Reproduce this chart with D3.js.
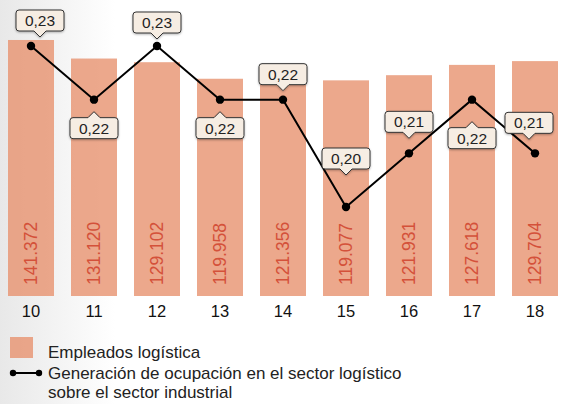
<!DOCTYPE html>
<html><head><meta charset="utf-8">
<script src="https://cdn.jsdelivr.net/npm/d3@7"></script>
<style>
html,body{margin:0;padding:0;background:#fff;}
svg{display:block;font-family:"Liberation Sans",Arial,Helvetica,sans-serif;}
</style></head>
<body>
<svg id="c" width="561" height="404"></svg>
<script>
// ---- data ----
const years = ["10","11","12","13","14","15","16","17","18"];
const empleados = [141372,131120,129102,119958,121356,119077,121931,127618,129704];
const empleadosLabels = ["141.372","131.120","129.102","119.958","121.356","119.077","121.931","127.618","129.704"];
const ratio = [0.23,0.22,0.23,0.22,0.22,0.20,0.21,0.22,0.21];
const ratioLabels = ["0,23","0,22","0,23","0,22","0,22","0,20","0,21","0,22","0,21"];
const legendLabels = ["Empleados logística","Generación de ocupación en el sector logístico","sobre el sector industrial"];

// ---- layout (not data) ----
const labelSide = ["up","down","up","down","up","up","up","down","up"];
const labelGap  = [9,12,7,12,9,32,15,22,14];

const svg = d3.select("#c");
const defs = svg.append("defs");
const g = defs.append("linearGradient").attr("id","bg")
  .attr("gradientUnits","userSpaceOnUse").attr("x1",0).attr("x2",115).attr("y1",0).attr("y2",0);
g.append("stop").attr("offset","0").attr("stop-color","#e8e8e8");
g.append("stop").attr("offset","1").attr("stop-color","#ffffff");
const f = defs.append("filter").attr("id","sh").attr("x","-20%").attr("y","-20%").attr("width","140%").attr("height","160%");
f.append("feDropShadow").attr("dx",0).attr("dy",1).attr("stdDeviation",0.8).attr("flood-color","#000").attr("flood-opacity",0.3);

svg.append("rect").attr("width",561).attr("height",404).attr("fill","url(#bg)");

const x = d3.scaleBand().domain(years).range([8,558]).paddingInner(0.27).paddingOuter(0);
const yBar = d3.scaleLinear().domain([0,150000]).range([296,24.35]);
const yLine = d3.scaleLinear().domain([0.20,0.23]).range([207,46]);
const cx = d => x(d) + x.bandwidth()/2;

const barFill = "#e7926f";
svg.append("g").selectAll("rect").data(years).join("rect")
  .attr("x", d=>x(d)).attr("width", x.bandwidth())
  .attr("y", (d,i)=>yBar(empleados[i]))
  .attr("height", (d,i)=>yBar(0)-yBar(empleados[i]))
  .attr("fill", barFill).attr("fill-opacity",0.8);

svg.append("g").selectAll("text").data(years).join("text")
  .attr("transform", d=>`translate(${cx(d)},285) rotate(-90)`)
  .attr("dy","0.36em")
  .attr("font-size",17.5).attr("fill","#d4513a")
  .text((d,i)=>empleadosLabels[i]);

// x axis
const xAxis = d3.axisBottom(x).tickSize(0).tickPadding(0);
const ax = svg.append("g").attr("transform","translate(0,301)").call(xAxis);
ax.select(".domain").remove();
ax.selectAll("text").attr("font-size",16.5).attr("fill","#111").attr("font-family",'"Liberation Sans",Arial,sans-serif').attr("dy","0.95em");

// line
const line = d3.line().x((d,i)=>cx(years[i])).y(d=>yLine(d));
svg.append("path").datum(ratio).attr("d",line).attr("fill","none").attr("stroke","#000").attr("stroke-width",2);
svg.append("g").selectAll("circle").data(ratio).join("circle")
  .attr("cx",(d,i)=>cx(years[i])).attr("cy",d=>yLine(d)).attr("r",4.2).attr("fill","#000");

// callouts
const bw=48, bh=21, th=6, tw=6, r=3;
const lg = svg.append("g");
ratio.forEach((v,i)=>{
  const px = cx(years[i]), py = yLine(v);
  let bx = Math.max(16, Math.min(553-bw, px-bw/2));
  const mid = bx+bw/2;
  let p, t;
  if(labelSide[i]==="up"){
    const tip = py - labelGap[i];
    const b = tip - th; t = b - bh;
    p = `M${bx+r},${t} H${bx+bw-r} Q${bx+bw},${t} ${bx+bw},${t+r} V${b-r} Q${bx+bw},${b} ${bx+bw-r},${b} H${mid+tw} L${mid},${tip} L${mid-tw},${b} H${bx+r} Q${bx},${b} ${bx},${b-r} V${t+r} Q${bx},${t} ${bx+r},${t} Z`;
  } else {
    const tip = py + labelGap[i];
    t = tip + th; const b = t + bh;
    p = `M${bx+r},${t} H${mid-tw} L${mid},${tip} L${mid+tw},${t} H${bx+bw-r} Q${bx+bw},${t} ${bx+bw},${t+r} V${b-r} Q${bx+bw},${b} ${bx+bw-r},${b} H${bx+r} Q${bx},${b} ${bx},${b-r} V${t+r} Q${bx},${t} ${bx+r},${t} Z`;
  }
  lg.append("path").attr("d",p).attr("fill","#f6ede3").attr("stroke","#333").attr("stroke-width",1).attr("filter","url(#sh)");
  lg.append("text").attr("x",mid).attr("y",t+bh/2).attr("dy","0.36em").attr("text-anchor","middle").attr("font-size",15.5).attr("fill","#222").text(ratioLabels[i]);
});

// legend
const leg = svg.append("g");
leg.append("rect").attr("x",10).attr("y",337).attr("width",23).attr("height",21).attr("fill",barFill).attr("fill-opacity",0.8);
leg.append("line").attr("x1",13).attr("x2",39).attr("y1",373).attr("y2",373).attr("stroke","#000").attr("stroke-width",2);
[13,39].forEach(xx=>leg.append("circle").attr("cx",xx).attr("cy",373).attr("r",3.2).attr("fill","#000"));
const ly = [358,379,398];
legendLabels.forEach((t,i)=>leg.append("text").attr("x",48).attr("y",ly[i]).attr("font-size",17).attr("fill","#222").text(t));
</script>
</body></html>
